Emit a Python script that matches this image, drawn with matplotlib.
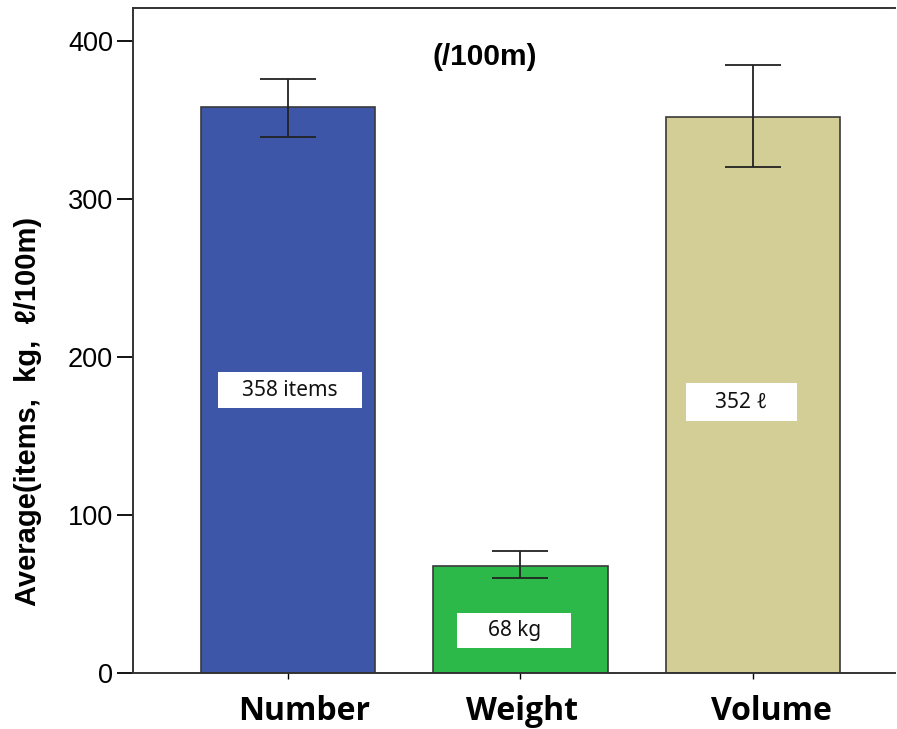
import matplotlib
matplotlib.use("Agg")
import matplotlib.pyplot as plt
from matplotlib.patches import Rectangle

categories = ["Number", "Weight", "Volume"]
means = [358, 68, 352]
lower = [339, 60, 320]
upper = [376, 77, 385]
bar_labels = ["358 items", "68 kg", "352 \u2113"]
colors = ["#3D56A8", "#2DB84A", "#D2CE96"]
yticks = [0, 100, 200, 300, 400]

# label boxes: centre offset from bar, centre height, box width/height (data units)
label_dx = [0.01, -0.026, -0.05]
label_y = [179, 27, 171.5]
box_w = [0.62, 0.49, 0.48]
box_h = [23, 22, 24]
# horizontal nudge of the category names (points)
name_shift = [12, 1, 13]

fig = plt.figure(figsize=(8.97, 7.29), dpi=100)
ax = fig.add_axes([0.1483, 0.0768, 0.8495, 0.9122])

x = list(range(len(categories)))
err = [[m - l for m, l in zip(means, lower)], [u - m for m, u in zip(means, upper)]]
ax.bar(x, means, width=0.75, color=colors, edgecolor="#3a3a3a", linewidth=1.2, zorder=2)
ax.errorbar(x, means, yerr=err, fmt="none", ecolor="#222222", elinewidth=1.3,
            capsize=20, capthick=1.3, zorder=3)

for xi, dx, h, w, bh, txt in zip(x, label_dx, label_y, box_w, box_h, bar_labels):
    cx = xi + dx
    ax.add_patch(Rectangle((cx - w / 2, h - bh / 2), w, bh, facecolor="white",
                           edgecolor="none", zorder=4))
    ax.text(cx, h, txt, ha="center", va="center", fontsize=15,
            family=["Noto Sans", "DejaVu Sans"], color="#111111", zorder=5)

ax.text(0.845, 390, "(/100m)", ha="center", va="center", fontsize=21.5,
        fontweight="bold", family=["Liberation Sans", "DejaVu Sans"])

ax.set_xlim(-0.665, 2.61)
ax.set_ylim(0, 420.9)
ax.set_yticks(yticks)
ax.set_yticklabels([str(t) for t in yticks], fontsize=19.5,
                   family=["Liberation Sans", "DejaVu Sans"])
ax.set_xticks(x)
ax.set_xticklabels([])
for xi, s, name in zip(x, name_shift, categories):
    ax.annotate(name, xy=(xi, 0), xycoords=("data", "axes fraction"),
                xytext=(s, -16), textcoords="offset points", ha="center", va="top",
                fontsize=23, fontweight="bold", family=["Open Sans", "DejaVu Sans"],
                annotation_clip=False)

ax.tick_params(axis="y", length=11.5, width=1.3, pad=3)
ax.tick_params(axis="x", length=4, width=1.0)

ax.set_ylabel("Average(items,  kg,  \u2113/100m)", fontsize=21, fontweight="bold",
              family=["Liberation Sans", "DejaVu Sans"])
ax.yaxis.set_label_coords(-0.119, 0.393)

for side in ["left", "top", "bottom"]:
    ax.spines[side].set_linewidth(1.4)
    ax.spines[side].set_color("#333333")
ax.spines["right"].set_visible(False)

fig.savefig("out.png", dpi=100)
